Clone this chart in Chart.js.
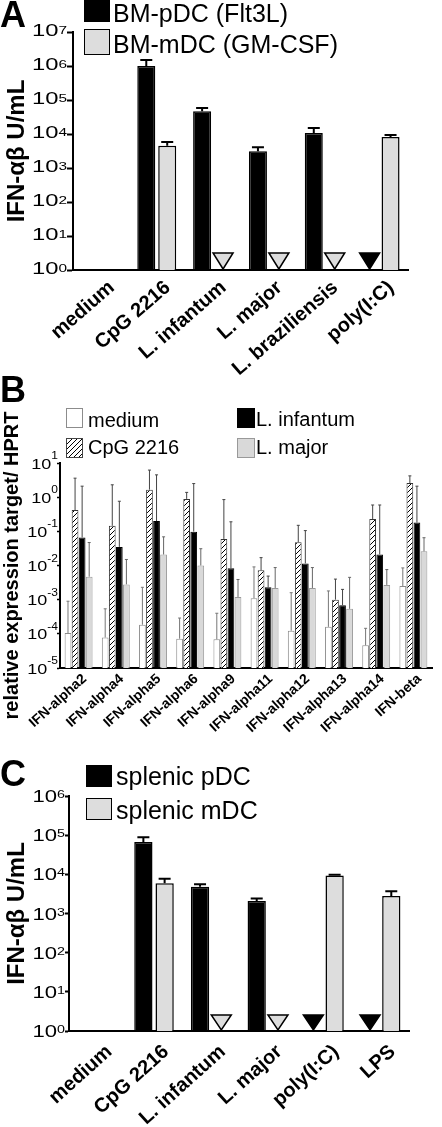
<!DOCTYPE html>
<html>
<head>
<meta charset="utf-8">
<title>IFN-αβ production</title>
<script src="https://cdn.jsdelivr.net/npm/chart.js@4.4.1/dist/chart.umd.min.js"></script>
<style>
  html, body { margin: 0; padding: 0; background: #fff; }
  body { position: relative; width: 442px; height: 1127px; overflow: hidden;
         font-family: "Liberation Sans", Arial, Helvetica, sans-serif; color: #000; }
  canvas { position: absolute; left: 0; }
  .letter { position: absolute; left: 0; font-size: 36px; font-weight: bold; line-height: 1; z-index: 2; }
  .key { position: absolute; box-sizing: border-box; z-index: 2; }
  .keytext { position: absolute; line-height: 1; white-space: nowrap; z-index: 2; }
</style>
</head>
<body>
<div class="letter" style="top:-3px">A</div>
<div class="letter" style="top:372px">B</div>
<div class="letter" style="top:756px">C</div>
<canvas id="chartA" width="442" height="382" style="top:0"></canvas>
<canvas id="chartB" width="442" height="380" style="top:375px"></canvas>
<canvas id="chartC" width="442" height="372" style="top:755px"></canvas>
<div id="legends"></div>
<script>
/* =========================
   DATA
========================= */

// Panel A - bone marrow DC, IFN-ab U/mL
const aCategories = ["medium", "CpG 2216", "L. infantum", "L. major", "L. braziliensis", "poly(I:C)"];
const aSeries = ["BM-pDC (Flt3L)", "BM-mDC (GM-CSF)"];
const aPdc = [null, 1.0e6, 4.7e4, 3.1e3, 1.07e4, null];
const aPdcErr = [null, 1.5e6, 5.8e4, 4.1e3, 1.5e4, null];
const aPdcNd = [false, false, false, false, false, true];
const aMdc = [null, 4.5e3, null, null, null, 8.1e3];
const aMdcErr = [null, 5.8e3, null, null, null, 9.3e3];
const aMdcNd = [false, false, true, true, true, false];
const aTicks = [1, 1e1, 1e2, 1e3, 1e4, 1e5, 1e6, 1e7];

// Panel B - relative expression target / HPRT
const bCategories = ["IFN-alpha2", "IFN-alpha4", "IFN-alpha5", "IFN-alpha6", "IFN-alpha9",
  "IFN-alpha11", "IFN-alpha12", "IFN-alpha13", "IFN-alpha14", "IFN-beta"];
const bSeries = ["medium", "CpG 2216", "L. infantum", "L. major"];
const bMedium = [1.05e-4, 7.8e-5, 1.85e-4, 7.2e-5, 6.9e-5, 1.1e-3, 1.23e-4, 1.6e-4, 4.6e-5, 2.5e-3];
const bMediumErr = [9e-4, 5.4e-4, 2.3e-3, 2.9e-4, 4e-4, 9.1e-3, 1.6e-3, 1.8e-3, 1.45e-4, 8.5e-3];
const bCpg = [0.42, 0.145, 1.66, 0.89, 0.06, 7.2e-3, 0.048, 1.0e-3, 0.23, 2.6];
const bCpgErr = [3.6, 2.3, 6.2, 1.38, 0.85, 0.017, 0.15, 4e-3, 0.59, 4.2];
const bInf = [0.066, 0.035, 0.2, 0.098, 8.3e-3, 2.3e-3, 0.0115, 6.9e-4, 0.021, 0.18];
const bInfErr = [2.1, 0.76, 4.5, 2.5, 0.19, 4.9e-3, 0.105, 2e-3, 0.59, 2.1];
const bMaj = [4.7e-3, 2.8e-3, 0.021, 0.01, 1.2e-3, 2.2e-3, 2.2e-3, 5.4e-4, 2.7e-3, 0.026];
const bMajErr = [0.047, 0.015, 0.069, 0.031, 3.9e-3, 8.7e-3, 8.7e-3, 4.5e-3, 7.6e-3, 0.065];
const bTicks = [1e-5, 1e-4, 1e-3, 1e-2, 1e-1, 1, 10];

// Panel C - splenic DC, IFN-ab U/mL
const cCategories = ["medium", "CpG 2216", "L. infantum", "L. major", "poly(I:C)", "LPS"];
const cSeries = ["splenic pDC", "splenic mDC"];
const cPdc = [null, 6.7e4, 4.8e3, 2.1e3, null, null];
const cPdcErr = [null, 8.8e4, 5.6e3, 2.4e3, null, null];
const cPdcNd = [false, false, false, false, true, true];
const cMdc = [null, 5.9e3, null, null, 9.4e3, 2.8e3];
const cMdcErr = [null, 7.7e3, null, null, 9.7e3, 3.7e3];
const cMdcNd = [false, false, true, true, false, false];
const cTicks = [1, 1e1, 1e2, 1e3, 1e4, 1e5, 1e6];

/* =========================
   HELPERS / PLUGINS
========================= */

const FONT = '"Liberation Sans", Arial, Helvetica, sans-serif';
Chart.defaults.font.family = FONT;
Chart.defaults.color = "#000";

const GRAY = "#dddddd";

function makeHatch() {
  const c = document.createElement("canvas");
  c.width = 5; c.height = 5;
  const g = c.getContext("2d");
  g.fillStyle = "#fff";
  g.fillRect(0, 0, 5, 5);
  g.strokeStyle = "#000";
  g.lineWidth = 1;
  g.beginPath();
  g.moveTo(-1, 6); g.lineTo(6, -1);
  g.moveTo(-1, 1); g.lineTo(1, -1);
  g.moveTo(4, 6); g.lineTo(6, 4);
  g.stroke();
  return c;
}
const hatchCanvas = makeHatch();
const hatch = hatchCanvas.getContext("2d").createPattern(hatchCanvas, "repeat");

// upper error whiskers
const errorBars = {
  id: "errorBars",
  afterDatasetsDraw(chart) {
    const ctx = chart.ctx;
    const ys = chart.scales.y;
    chart.data.datasets.forEach((ds, i) => {
      if (!ds.errorTop) return;
      const meta = chart.getDatasetMeta(i);
      ctx.save();
      ctx.strokeStyle = ds.errorColor;
      ctx.lineWidth = ds.errorWidth;
      meta.data.forEach((bar, j) => {
        const e = ds.errorTop[j];
        if (e == null || ds.data[j] == null) return;
        const yTop = ys.getPixelForValue(e);
        const half = ds.errorCap / 2;
        ctx.beginPath();
        ctx.moveTo(bar.x, bar.y);
        ctx.lineTo(bar.x, yTop);
        ctx.moveTo(bar.x - half, yTop);
        ctx.lineTo(bar.x + half, yTop);
        ctx.stroke();
      });
      ctx.restore();
    });
  }
};

// "not detected" down-triangles sitting on the baseline
const ndMarks = {
  id: "ndMarks",
  afterDatasetsDraw(chart, args, o) {
    const ctx = chart.ctx;
    const ys = chart.scales.y;
    const base = ys.getPixelForValue(ys.min) - 1;
    chart.data.datasets.forEach((ds, i) => {
      if (!ds.notDetected) return;
      const meta = chart.getDatasetMeta(i);
      meta.data.forEach((bar, j) => {
        if (!ds.notDetected[j]) return;
        ctx.save();
        ctx.beginPath();
        ctx.moveTo(bar.x - o.w / 2, base - o.h);
        ctx.lineTo(bar.x + o.w / 2, base - o.h);
        ctx.lineTo(bar.x, base);
        ctx.closePath();
        ctx.fillStyle = ds.backgroundColor;
        ctx.fill();
        ctx.lineWidth = 1.5;
        ctx.strokeStyle = "#000";
        ctx.stroke();
        ctx.restore();
      });
    });
  }
};

// 10^n labels with a raised exponent
const powerTicks = {
  id: "powerTicks",
  afterDraw(chart, args, o) {
    const s = chart.scales.y;
    const ctx = chart.ctx;
    ctx.save();
    ctx.fillStyle = "#000";
    ctx.textBaseline = "alphabetic";
    ctx.textAlign = "left";
    s.ticks.forEach(t => {
      const y = s.getPixelForValue(t.value);
      const expText = String(Math.round(Math.log10(t.value)));
      ctx.font = o.expSize + "px " + FONT;
      const ew = ctx.measureText(expText).width * o.stretch;
      ctx.font = o.size + "px " + FONT;
      const bw = ctx.measureText("10").width * o.stretch;
      const right = s.right - o.gap;

      ctx.save();
      ctx.translate(right - ew - bw, y + o.baseDy);
      ctx.scale(o.stretch, 1);
      ctx.fillText("10", 0, 0);
      ctx.restore();

      ctx.save();
      ctx.font = o.expSize + "px " + FONT;
      ctx.translate(right - ew, y + o.expDy);
      ctx.scale(o.stretch, 1);
      ctx.fillText(expText, 0, 0);
      ctx.restore();
    });
    ctx.restore();
  }
};

// slanted category names, text ending under each category
const slantLabels = {
  id: "slantLabels",
  afterDraw(chart, args, o) {
    const xs = chart.scales.x;
    const ctx = chart.ctx;
    ctx.save();
    ctx.fillStyle = "#000";
    ctx.font = "bold " + o.size + "px " + FONT;
    ctx.textAlign = "right";
    ctx.textBaseline = "middle";
    chart.data.labels.forEach((lab, i) => {
      ctx.save();
      ctx.translate(xs.getPixelForTick(i) + o.dx, xs.top + o.dy);
      ctx.rotate(-o.angle * Math.PI / 180);
      ctx.fillText(lab, 0, 0);
      ctx.restore();
    });
    ctx.restore();
  }
};

function logChart(id, o) {
  return new Chart(document.getElementById(id), {
    type: "bar",
    data: { labels: o.labels, datasets: o.datasets },
    options: {
      responsive: false,
      animation: false,
      devicePixelRatio: 1,
      layout: { padding: { top: o.top, right: o.right, left: 0, bottom: 0 } },
      datasets: { bar: { categoryPercentage: o.catPct, barPercentage: o.barPct } },
      plugins: {
        legend: { display: false },
        tooltip: { enabled: false },
        powerTicks: o.tickStyle,
        slantLabels: o.xLabels,
        ndMarks: o.nd || { w: 20, h: 16 }
      },
      scales: {
        x: {
          type: "category",
          offset: true,
          afterFit: s => { s.height = o.xHeight; },
          grid: { display: false },
          border: { display: true, color: "#000", width: 2 },
          ticks: { display: false }
        },
        y: {
          type: "logarithmic",
          min: o.ticks[0],
          max: o.ticks[o.ticks.length - 1],
          afterBuildTicks: s => { s.ticks = o.ticks.map(v => ({ value: v, major: true })); },
          afterFit: s => { s.width = o.yWidth; },
          ticks: { display: false },
          grid: {
            display: true, drawOnChartArea: false, drawTicks: true,
            tickLength: o.tickLength, tickColor: "#000", tickWidth: o.tickWidth
          },
          border: { display: true, color: "#000", width: 2 },
          title: {
            display: true, text: o.title, color: "#000",
            font: { family: FONT, size: o.titleSize, weight: "bold" },
            padding: { top: o.titlePad, bottom: 0 }
          }
        }
      }
    },
    plugins: [errorBars, ndMarks, powerTicks, slantLabels]
  });
}

function addLegend(items) {
  const host = document.getElementById("legends");
  items.forEach(it => {
    const box = document.createElement("div");
    box.className = "key";
    box.style.left = it.x + "px";
    box.style.top = it.y + "px";
    box.style.width = it.w + "px";
    box.style.height = it.h + "px";
    box.style.background = it.fill;
    box.style.border = it.border || "none";
    if (it.image) box.style.backgroundImage = it.image;
    host.appendChild(box);

    const t = document.createElement("div");
    t.className = "keytext";
    t.textContent = it.label;
    t.style.left = it.tx + "px";
    t.style.top = (it.cy - it.size / 2) + "px";
    t.style.fontSize = it.size + "px";
    host.appendChild(t);
  });
}

/* =========================
   PANEL A
========================= */

logChart("chartA", {
  labels: aCategories,
  datasets: [
    { label: aSeries[0], data: aPdc, backgroundColor: "#000", borderColor: "#000", borderWidth: 1.5,
      errorTop: aPdcErr, errorColor: "#000", errorWidth: 2, errorCap: 12, notDetected: aPdcNd },
    { label: aSeries[1], data: aMdc, backgroundColor: GRAY, borderColor: "#000", borderWidth: 1.5,
      errorTop: aMdcErr, errorColor: "#000", errorWidth: 2, errorCap: 12, notDetected: aMdcNd }
  ],
  ticks: aTicks,
  top: 32, right: 34, xHeight: 112, yWidth: 73,
  catPct: 0.75, barPct: 0.86,
  xLabels: { size: 20, dx: 11, dy: 15, angle: 41 },
  tickLength: 6, tickWidth: 2,
  title: "IFN-αβ U/mL", titleSize: 24, titlePad: 3,
  tickStyle: { size: 17, expSize: 11, stretch: 1.4, gap: 6, baseDy: 4, expDy: 1.5 },
  nd: { w: 20, h: 16 }
});

addLegend([
  { label: aSeries[0], x: 84, y: -4, w: 26, h: 26, fill: "#000", tx: 113, cy: 13, size: 25 },
  { label: aSeries[1], x: 84, y: 29, w: 26, h: 26, fill: GRAY, border: "1.5px solid #000", tx: 113, cy: 44, size: 25 }
]);

/* =========================
   PANEL B
========================= */

logChart("chartB", {
  labels: bCategories,
  datasets: [
    { label: bSeries[0], data: bMedium, backgroundColor: "#fff", borderColor: "#8c8c8c", borderWidth: 1,
      errorTop: bMediumErr, errorColor: "#777", errorWidth: 1, errorCap: 3 },
    { label: bSeries[1], data: bCpg, backgroundColor: hatch, borderColor: "#333", borderWidth: 1,
      errorTop: bCpgErr, errorColor: "#444", errorWidth: 1, errorCap: 3 },
    { label: bSeries[2], data: bInf, backgroundColor: "#000", borderColor: "#000", borderWidth: 1,
      errorTop: bInfErr, errorColor: "#444", errorWidth: 1, errorCap: 3 },
    { label: bSeries[3], data: bMaj, backgroundColor: "#d9d9d9", borderColor: "#999", borderWidth: 1,
      errorTop: bMajErr, errorColor: "#666", errorWidth: 1, errorCap: 3 }
  ],
  ticks: bTicks,
  top: 88, right: 10, xHeight: 87, yWidth: 60,
  catPct: 0.76, barPct: 0.95,
  xLabels: { size: 14, dx: 6, dy: 9, angle: 42 },
  tickLength: 3, tickWidth: 1.5,
  title: "relative expression target/ HPRT", titleSize: 20, titlePad: 0,
  tickStyle: { size: 15, expSize: 10, stretch: 1.2, gap: 2, baseDy: 5.5, expDy: -4 }
});

addLegend([
  { label: bSeries[0], x: 66, y: 408, w: 17, h: 20, fill: "#fff", border: "1px solid #8c8c8c", tx: 88, cy: 420, size: 20 },
  { label: bSeries[1], x: 66, y: 438, w: 17, h: 20, fill: "#fff", border: "1px solid #444",
    image: "url(" + hatchCanvas.toDataURL() + ")", tx: 88, cy: 447, size: 20 },
  { label: bSeries[2], x: 237, y: 408, w: 18, h: 20, fill: "#000", tx: 256, cy: 419, size: 20 },
  { label: bSeries[3], x: 237, y: 438, w: 18, h: 20, fill: "#d9d9d9", border: "1px solid #999", tx: 256, cy: 447, size: 20 }
]);

/* =========================
   PANEL C
========================= */

logChart("chartC", {
  labels: cCategories,
  datasets: [
    { label: cSeries[0], data: cPdc, backgroundColor: "#000", borderColor: "#000", borderWidth: 1.5,
      errorTop: cPdcErr, errorColor: "#000", errorWidth: 2, errorCap: 12, notDetected: cPdcNd },
    { label: cSeries[1], data: cMdc, backgroundColor: GRAY, borderColor: "#000", borderWidth: 1.5,
      errorTop: cMdcErr, errorColor: "#000", errorWidth: 2, errorCap: 12, notDetected: cMdcNd }
  ],
  ticks: cTicks,
  top: 41, right: 33, xHeight: 96, yWidth: 69,
  catPct: 0.75, barPct: 0.86,
  xLabels: { size: 20, dx: 12, dy: 18, angle: 42 },
  tickLength: 4, tickWidth: 2,
  title: "IFN-αβ U/mL", titleSize: 24, titlePad: 3,
  tickStyle: { size: 17, expSize: 11, stretch: 1.3, gap: 4, baseDy: 6, expDy: 2 },
  nd: { w: 20, h: 15 }
});

addLegend([
  { label: cSeries[0], x: 86, y: 765, w: 26, h: 22, fill: "#000", tx: 116, cy: 776, size: 25 },
  { label: cSeries[1], x: 86, y: 798, w: 26, h: 22, fill: GRAY, border: "1.5px solid #000", tx: 116, cy: 810, size: 25 }
]);
</script>
</body>
</html>
